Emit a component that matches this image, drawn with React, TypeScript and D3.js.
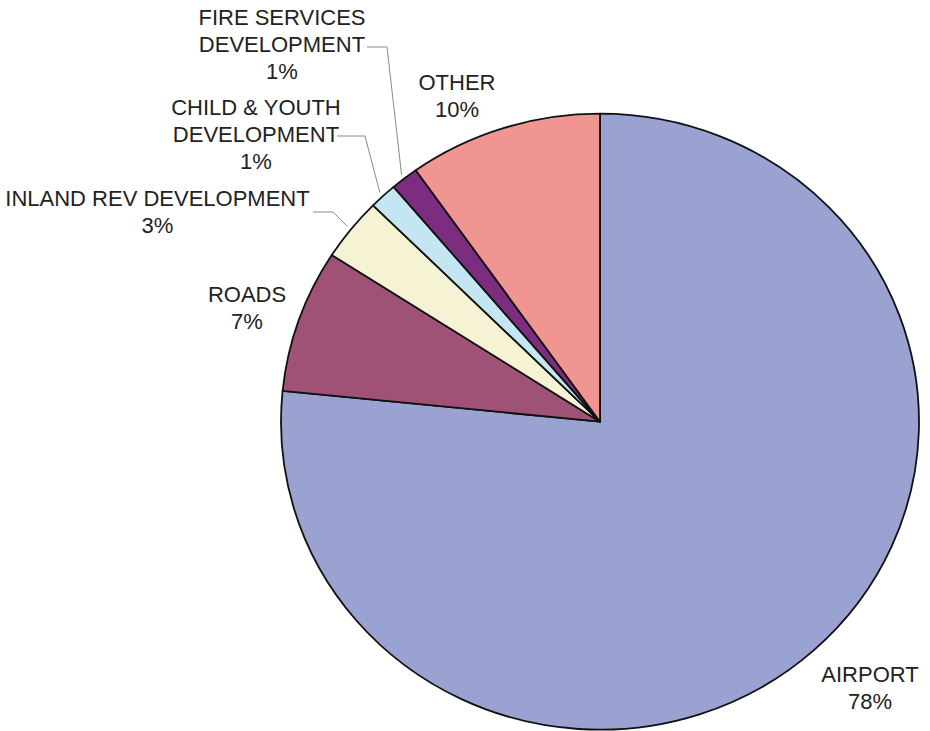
import React from "react";
import * as d3 from "d3";

const categories = ["AIRPORT", "ROADS", "INLAND REV DEVELOPMENT", "CHILD & YOUTH DEVELOPMENT", "FIRE SERVICES DEVELOPMENT", "OTHER"];
const values = [76.6, 7.5, 3.3, 1.4, 1.4, 9.8];
const percentLabels = ["78%", "7%", "3%", "1%", "1%", "10%"];
const colors = ["#9AA2D1", "#A05276", "#F5F3D4", "#C4E6F3", "#7C2D7F", "#F09591"];

// label layout: text lines, center x, first baseline y, leader (optional)
const labelLayout = [
  { lines: ["AIRPORT"], x: 870, y: 682, leader: null },
  { lines: ["ROADS"], x: 247, y: 302, leader: null },
  { lines: ["INLAND REV DEVELOPMENT"], x: 157.5, y: 206, leader: { x0: 313, y0: 212, x1: 333 } },
  { lines: ["CHILD & YOUTH", "DEVELOPMENT"], x: 256, y: 115, leader: { x0: 337, y0: 136, x1: 365 } },
  { lines: ["FIRE SERVICES", "DEVELOPMENT"], x: 282, y: 25, leader: { x0: 367, y0: 47, x1: 387 } },
  { lines: ["OTHER"], x: 457, y: 90, leader: null },
];

const W = 930;
const H = 731;
const cx = 600;
const cy = 421.7;
const ry = 308;
const rx = 319;
const lineH = 27;

export default function App() {
  const pie = d3.pie<number>().sort(null).value((d) => d)(values);
  const arc = d3.arc<d3.PieArcDatum<number>>().innerRadius(0).outerRadius(ry);
  const sx = rx / ry;

  return (
    <svg width={W} height={H} style={{ position: "absolute", left: 0, top: 0, background: "#fff" }}
      fontFamily="'Liberation Sans', Arial, sans-serif">
      <g transform={`translate(${cx},${cy}) scale(${sx},1)`}>
        {pie.map((p, i) => (
          <path key={i} d={arc(p) || ""} fill={colors[i]} stroke="#111" strokeWidth={1.8}
            strokeLinejoin="round" vectorEffect="non-scaling-stroke" />
        ))}
      </g>
      {labelLayout.map((l, i) => {
        const p = pie[i];
        const mid = (p.startAngle + p.endAngle) / 2;
        const ex = cx + rx * 1.015 * Math.sin(mid);
        const ey = cy - ry * 1.015 * Math.cos(mid);
        const allLines = [...l.lines, percentLabels[i]];
        return (
          <g key={i}>
            {l.leader && (
              <polyline
                points={`${l.leader.x0},${l.leader.y0} ${l.leader.x1},${l.leader.y0} ${ex},${ey}`}
                fill="none" stroke="#8a8a8a" strokeWidth={1} />
            )}
            <text textAnchor="middle" fontSize={22} fill="#222">
              {allLines.map((t, j) => (
                <tspan key={j} x={l.x} y={l.y + j * lineH}>{t}</tspan>
              ))}
            </text>
          </g>
        );
      })}
    </svg>
  );
}
